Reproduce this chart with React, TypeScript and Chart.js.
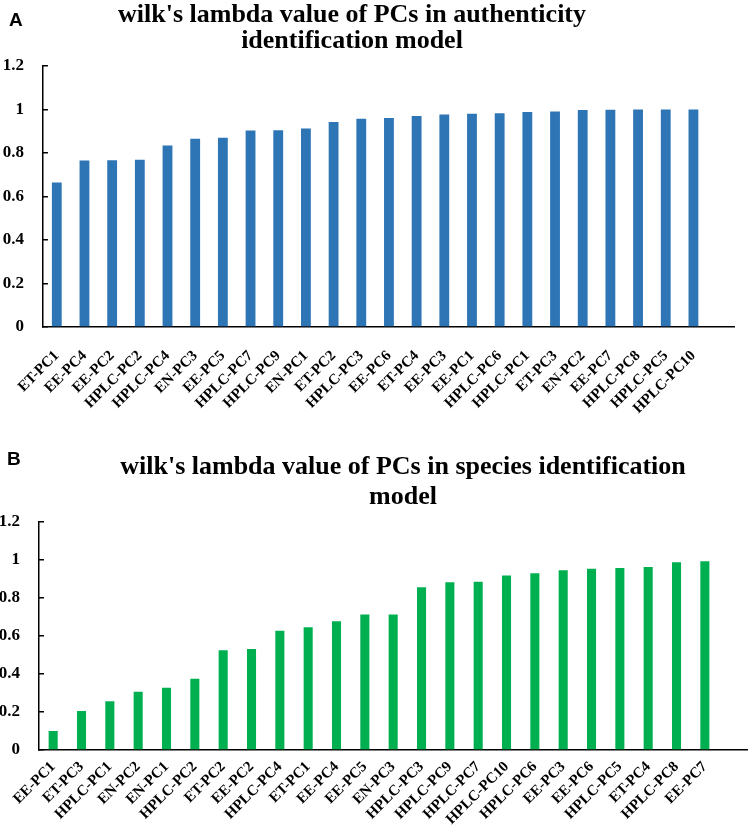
import { useEffect, useRef } from 'react';
import { Chart, registerables } from 'chart.js';

Chart.register(...registerables);

const SERIF = '"Liberation Serif", "Times New Roman", serif';
const SANS = '"Liberation Sans", Arial, sans-serif';

const AUTH_LABELS = [
  'ET-PC1', 'EE-PC4', 'EE-PC2', 'HPLC-PC2', 'HPLC-PC4', 'EN-PC3', 'EE-PC5', 'HPLC-PC7',
  'HPLC-PC9', 'EN-PC1', 'ET-PC2', 'HPLC-PC3', 'EE-PC6', 'ET-PC4', 'EE-PC3', 'EE-PC1',
  'HPLC-PC6', 'HPLC-PC1', 'ET-PC3', 'EN-PC2', 'EE-PC7', 'HPLC-PC8', 'HPLC-PC5', 'HPLC-PC10',
];
const AUTH_VALUES = [
  0.664, 0.766, 0.767, 0.769, 0.835, 0.866, 0.870, 0.904,
  0.905, 0.913, 0.942, 0.958, 0.961, 0.970, 0.977, 0.981,
  0.983, 0.988, 0.991, 0.998, 0.999, 1.0, 1.0, 1.0,
];

const SPEC_LABELS = [
  'EE-PC1', 'ET-PC3', 'HPLC-PC1', 'EN-PC2', 'EN-PC1', 'HPLC-PC2', 'ET-PC2', 'EE-PC2',
  'HPLC-PC4', 'ET-PC1', 'EE-PC4', 'EE-PC5', 'EN-PC3', 'HPLC-PC3', 'HPLC-PC9', 'HPLC-PC7',
  'HPLC-PC10', 'HPLC-PC6', 'EE-PC3', 'EE-PC6', 'HPLC-PC5', 'ET-PC4', 'HPLC-PC8', 'EE-PC7',
];
const SPEC_VALUES = [
  0.100, 0.205, 0.257, 0.306, 0.327, 0.375, 0.525, 0.531,
  0.627, 0.646, 0.678, 0.713, 0.713, 0.856, 0.883, 0.886,
  0.919, 0.930, 0.946, 0.954, 0.958, 0.963, 0.988, 0.993,
];

const Y_TICKS = [0, 0.2, 0.4, 0.6, 0.8, 1, 1.2];

interface PanelProps {
  labels: string[];
  values: number[];
  color: string;
  barPct: number;
  height: number;
  plotLeft: number;
  plotRight: number;
  plotTop: number;
  plotBottom: number;
  labelPad: number;
}

function BarPanel({ labels, values, color, barPct, height, plotLeft, plotRight, plotTop, plotBottom, labelPad }: PanelProps) {
  const ref = useRef<HTMLCanvasElement>(null);

  useEffect(() => {
    if (!ref.current) return;
    // one empty slot at the end: the axis line runs a category past the last bar
    const chart = new Chart(ref.current, {
      type: 'bar',
      data: {
        labels: [...labels, ''],
        datasets: [{ data: values, backgroundColor: color, categoryPercentage: 1, barPercentage: barPct }],
      },
      options: {
        animation: false,
        responsive: true,
        maintainAspectRatio: false,
        layout: { padding: { left: 0, right: 754 - plotRight, top: plotTop, bottom: 0 } },
        plugins: { legend: { display: false }, tooltip: { enabled: false } },
        scales: {
          x: {
            grid: { display: false, drawTicks: false },
            border: { display: true, color: '#000', width: 1.5 },
            ticks: {
              autoSkip: false, minRotation: 45, maxRotation: 45, padding: labelPad,
              color: '#000', font: { family: SERIF, weight: 'bold', size: 15 },
            },
            afterFit: (s: any) => { s.height = height - plotBottom; },
          },
          y: {
            min: 0, max: 1.2,
            afterBuildTicks: (s: any) => { s.ticks = Y_TICKS.map(v => ({ value: v })); },
            grid: { drawOnChartArea: false, drawTicks: true, tickLength: -5, color: '#000', lineWidth: 1.5 },
            border: { display: true, color: '#000', width: 1.5 },
            ticks: {
              padding: 24, color: '#000', font: { family: SERIF, weight: 'bold', size: 17 },
              callback: (v: any) => String(Number(Number(v).toFixed(1))),
            },
            afterFit: (s: any) => { s.width = plotLeft; },
          },
        },
      },
    });
    return () => chart.destroy();
  }, []);

  return (
    <div style={{ position: 'relative', width: 754, height }}>
      <canvas ref={ref} />
    </div>
  );
}

const titleStyle = { position: 'absolute' as const, fontFamily: SERIF, fontWeight: 700, fontSize: 26, color: '#000', textAlign: 'center' as const, whiteSpace: 'nowrap' as const };
const letterStyle = { position: 'absolute' as const, fontFamily: SANS, fontWeight: 700, fontSize: 19, lineHeight: '19px', color: '#000' };

export default function App() {
  return (
    <div style={{ position: 'absolute', left: 0, top: 0, width: 754, height: 834, background: '#fff', overflow: 'hidden' }}>
      <div style={{ position: 'absolute', left: 0, top: 0 }}>
        <BarPanel labels={AUTH_LABELS} values={AUTH_VALUES} color="#2E75B6" barPct={0.355}
          height={420} plotLeft={40} plotRight={743} plotTop={66} plotBottom={327} labelPad={20} />
      </div>
      <div style={{ position: 'absolute', left: 0, top: 420 }}>
        <BarPanel labels={SPEC_LABELS} values={SPEC_VALUES} color="#00B050" barPct={0.32}
          height={414} plotLeft={39} plotRight={750} plotTop={102} plotBottom={330} labelPad={8} />
      </div>

      <div style={{ ...letterStyle, left: 9, top: 10 }}>A</div>
      <div style={{ ...titleStyle, left: 0, width: 704, top: 1, lineHeight: '26px' }}>
        wilk's lambda value of PCs in authenticity<br />identification model
      </div>

      <div style={{ ...letterStyle, left: 7, top: 449 }}>B</div>
      <div style={{ ...titleStyle, left: 52, width: 702, top: 451, lineHeight: '30px' }}>
        wilk's lambda value of PCs in species identification<br />model
      </div>
    </div>
  );
}
